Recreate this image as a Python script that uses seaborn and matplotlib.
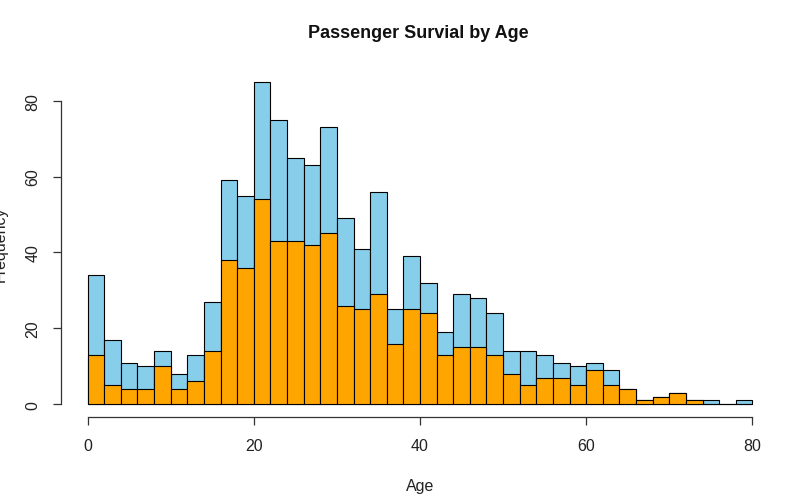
import numpy as np
import pandas as pd
import matplotlib
matplotlib.use("Agg")
import matplotlib.pyplot as plt
import seaborn as sns

# Age bins (width 2) and counts
bin_edges = list(range(0, 82, 2))
total_counts = [34, 17, 11, 10, 14, 8, 13, 27, 59, 55,
                85, 75, 65, 63, 73, 49, 41, 56, 25, 39,
                32, 19, 29, 28, 24, 14, 14, 13, 11, 10,
                11, 9, 4, 1, 2, 3, 1, 1, 0, 1]
survived_counts = [13, 5, 4, 4, 10, 4, 6, 14, 38, 36,
                   54, 43, 43, 42, 45, 26, 25, 29, 16, 25,
                   24, 13, 15, 15, 13, 8, 5, 7, 7, 5,
                   9, 5, 4, 1, 2, 3, 1, 0, 0, 0]

mids = [(a + b) / 2 for a, b in zip(bin_edges[:-1], bin_edges[1:])]
df = pd.DataFrame({"age": mids, "total": total_counts, "survived": survived_counts})

sns.set_style("white")
plt.rcParams['font.family'] = ['Liberation Sans', 'DejaVu Sans']

fig = plt.figure(figsize=(8.04, 5.02), dpi=100)
ax = fig.add_axes([0.0759, 0.167, 0.893, 0.694])

sns.histplot(data=df, x="age", weights="total", bins=bin_edges, color="skyblue",
             edgecolor="black", linewidth=0.8, alpha=1, ax=ax)
sns.histplot(data=df[df["survived"] > 0], x="age", weights="survived", bins=bin_edges,
             color="orange", edgecolor="black", linewidth=0.8, alpha=1, ax=ax)

ax.set_xlim(-3.2, 83.2)
ax.set_ylim(-3.4, 88.4)
ax.set_xticks([0, 20, 40, 60, 80])
ax.set_yticks([0, 20, 40, 60, 80])
for s in ["top", "right"]:
    ax.spines[s].set_visible(False)
ax.spines["bottom"].set_bounds(0, 80)
ax.spines["left"].set_bounds(0, 80)
for s in ["bottom", "left"]:
    ax.spines[s].set_color("#333333")
    ax.spines[s].set_linewidth(0.9)
ax.tick_params(axis="both", direction="out", length=6, width=0.9, color="#333333",
               labelsize=11.5, labelcolor="#222222", pad=9, bottom=True, left=True)
for lbl in ax.get_yticklabels():
    lbl.set_rotation(90)
    lbl.set_va("center")

ax.set_xlabel("Age", fontsize=11.5, color="#222222", labelpad=18)
ax.set_ylabel("")
# the y label sits partly off the left edge, as in the original
fig.text(0.0, 0.514, "Frequency", rotation=90, ha="center", va="center",
         fontsize=11.5, color="#222222")
fig.text(0.52, 0.934, "Passenger Survial by Age", ha="center", va="center",
         fontsize=13, fontweight="bold", color="#111111")

fig.savefig("out.png", dpi=100)
